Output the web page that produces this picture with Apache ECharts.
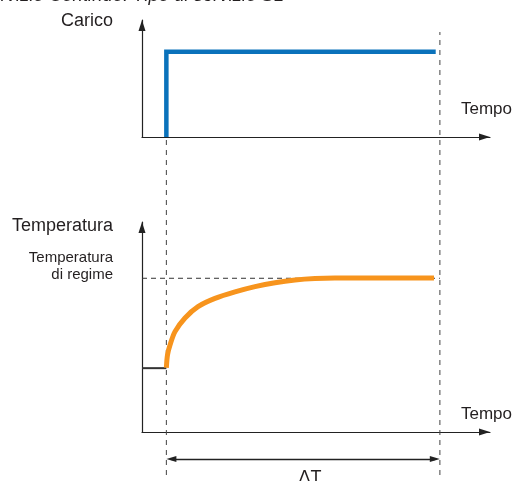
<!DOCTYPE html>
<html><head><meta charset="utf-8">
<script src="https://cdn.jsdelivr.net/npm/echarts@6/dist/echarts.min.js"></script>
<style>html,body{margin:0;padding:0;background:#fff}#c{width:517px;height:481px}</style>
</head><body><div id="c"></div>
<script>
// ---- data (abstract units: time 0..100, value 0..100) ----
const loadTime = [7.0, 7.0, 84.4];
const loadValue = [0, 72.9, 72.9];
const baseTime = [0, 7.0];
const baseTemp = [30.4, 30.4];
const tempTime = [7.0, 7.33, 8.05, 9.48, 12.36, 16.09, 20.98, 26.72, 32.47, 38.22, 43.97, 49.71, 55.46, 83.9];
const tempValue = [30.6, 36.7, 41.4, 47.8, 54.3, 59.7, 63.6, 66.7, 69.2, 71.1, 72.4, 73.1, 73.3, 73.3];
const regimeTemp = 73.2;
const guideTimes = [7.0, 85.6];       // dashed vertical guides
const guideTops = [0.763, 1.0];       // overlay-axis top of each guide
const deltaLevel = 0.036;             // overlay-axis level of the ΔT arrow
const texts = {
  title: 'Servizio Continuo: Tipo di servizio S1',
  load: 'Carico', temp: 'Temperatura', regime: 'Temperatura\ndi regime',
  time: 'Tempo', delta: 'ΔT'
};

const FONT = '"Liberation Sans", Arial, Helvetica, sans-serif';
const TXT = '#231f20';
const AX = '#222';

function hiddenAxis(gi, min, max, showLine) {
  return {
    type: 'value', gridIndex: gi, min: min, max: max,
    axisLabel: {show: false}, axisTick: {show: false}, splitLine: {show: false},
    axisLine: showLine ? {show: true, onZero: true, symbol: ['none', 'triangle'], symbolSize: [7, 11], symbolOffset: [0, -5.5],
      lineStyle: {color: AX, width: 1.2}} : {show: false}
  };
}

const chart = echarts.init(document.getElementById('c'), null, {renderer: 'canvas'});
const zip = (a, b) => a.map((v, i) => [v, b[i]]);

const option = {
  animation: false,
  grid: [
    {left: 142, right: 27, top: 20, height: 117},
    {left: 142, right: 27, top: 222, height: 210},
    {left: 142, right: 27, top: 32, bottom: 6}
  ],
  xAxis: [hiddenAxis(0, 0, 100, true), hiddenAxis(1, 0, 100, true), hiddenAxis(2, 0, 100, false)],
  yAxis: [hiddenAxis(0, 0, 100, true), hiddenAxis(1, 0, 100, true), hiddenAxis(2, 0, 1, false)],
  series: [
    // dashed vertical guides
    ...guideTimes.map((t, i) => ({
      type: 'line', xAxisIndex: 2, yAxisIndex: 2, z: 1, silent: true, symbol: 'none',
      data: [[t, 0], [t, guideTops[i]]],
      lineStyle: {color: '#444', width: 1, type: [5, 5]}
    })),
    // ΔT double arrow
    {
      type: 'line', xAxisIndex: 2, yAxisIndex: 2, z: 2, silent: true, symbol: 'none', data: [],
      markLine: {
        silent: true, symbol: ['triangle', 'triangle'], symbolSize: [6, 10], label: {show: false},
        lineStyle: {color: AX, width: 1.3, type: 'solid'},
        data: [[{coord: [guideTimes[0] + 1.45, deltaLevel]}, {coord: [guideTimes[1] - 1.45, deltaLevel]}]]
      }
    },
    // regime dashed horizontal
    {
      type: 'line', xAxisIndex: 1, yAxisIndex: 1, z: 1, silent: true, symbol: 'none',
      data: [[0, regimeTemp], [guideTimes[1], regimeTemp]],
      lineStyle: {color: '#333', width: 1, type: [5, 4]}
    },
    // load
    {
      type: 'line', xAxisIndex: 0, yAxisIndex: 0, z: 3, silent: true, symbol: 'none',
      data: zip(loadTime, loadValue),
      lineStyle: {color: '#0a72bb', width: 4.5, join: 'miter', cap: 'butt'}
    },
    // initial temperature
    {
      type: 'line', xAxisIndex: 1, yAxisIndex: 1, z: 3, silent: true, symbol: 'none',
      data: zip(baseTime, baseTemp),
      lineStyle: {color: '#333', width: 2}
    },
    // temperature rise
    {
      type: 'line', xAxisIndex: 1, yAxisIndex: 1, z: 4, silent: true, symbol: 'none',
      smooth: 0.3,
      data: zip(tempTime, tempValue),
      lineStyle: {color: '#f7941d', width: 5, cap: 'butt', join: 'round'}
    }
  ],
  graphic: [
    {type: 'text', left: -22, top: -14, style: {text: texts.title, font: 'italic 18.5px ' + FONT, fill: TXT}},
    {type: 'text', x: 113, y: 21, style: {text: texts.load, font: '18px ' + FONT, fill: TXT, align: 'right', verticalAlign: 'middle'}},
    {type: 'text', x: 113, y: 226, style: {text: texts.temp, font: '18px ' + FONT, fill: TXT, align: 'right', verticalAlign: 'middle'}},
    {type: 'text', x: 113, y: 250, style: {text: texts.regime, font: '15px ' + FONT, fill: TXT, align: 'right', verticalAlign: 'top', lineHeight: 16.5}},
    {type: 'text', x: 461, y: 109, style: {text: texts.time, font: '17px ' + FONT, fill: TXT, align: 'left', verticalAlign: 'middle'}},
    {type: 'text', x: 461, y: 414, style: {text: texts.time, font: '17px ' + FONT, fill: TXT, align: 'left', verticalAlign: 'middle'}},
    {type: 'text', x: 310, y: 478, style: {text: texts.delta, font: '18px ' + FONT, fill: TXT, align: 'center', verticalAlign: 'middle'}}
  ]
};
chart.setOption(option);
</script>
</body></html>
